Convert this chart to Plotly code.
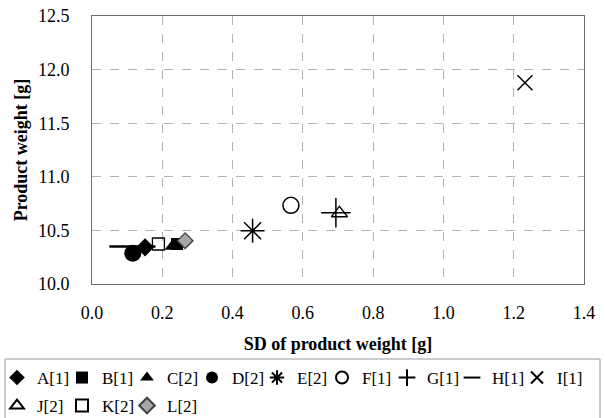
import plotly.graph_objects as go

names = ["A[1]", "B[1]", "C[2]", "D[2]", "E[2]", "F[1]", "G[1]", "H[1]", "I[1]", "J[2]", "K[2]", "L[2]"]
sd_values = [0.151, 0.242, 0.231, 0.116, 0.457, 0.566, 0.694, 0.115, 1.232, 0.704, 0.189, 0.265]
weight_values = [10.342, 10.373, 10.354, 10.286, 10.497, 10.734, 10.665, 10.350, 11.878, 10.660, 10.373, 10.404]

x_ticks = [0.0, 0.2, 0.4, 0.6, 0.8, 1.0, 1.2, 1.4]
y_ticks = [10.0, 10.5, 11.0, 11.5, 12.0, 12.5]

styles = {
    "A[1]": dict(symbol="diamond", size=14, color="black", line=dict(width=0)),
    "B[1]": dict(symbol="square", size=12, color="black", line=dict(width=0)),
    "C[2]": dict(symbol="triangle-up", size=15, color="black", line=dict(width=0)),
    "D[2]": dict(symbol="circle", size=17, color="black", line=dict(width=0)),
    "E[2]": dict(symbol="asterisk-open", size=20, color="black", line=dict(width=1.5, color="black")),
    "F[1]": dict(symbol="circle-open", size=16, color="black", line=dict(width=1.5, color="black")),
    "G[1]": dict(symbol="cross-thin-open", size=21, color="black", line=dict(width=1.5, color="black")),
    "H[1]": dict(symbol="line-ew-open", size=33, color="black", line=dict(width=2.5, color="black")),
    "I[1]": dict(symbol="x-thin-open", size=15, color="black", line=dict(width=1.5, color="black")),
    "J[2]": dict(symbol="triangle-up-open", size=14, color="black", line=dict(width=1.3, color="black")),
    "K[2]": dict(symbol="square-open", size=12, color="black", line=dict(width=1.3, color="black")),
    "L[2]": dict(symbol="diamond", size=12, color="#a6a6a6", line=dict(width=1.3, color="#404040")),
}

serif = "Liberation Serif"

# plot area: x 92..584 px, y 16..284 px
def px_x(p):
    return (p - 92) / 492.0

def px_y(p):
    return (284 - p) / 268.0

fig = go.Figure()
legends = {}
for i, (n, xv, yv) in enumerate(zip(names, sd_values, weight_values)):
    key = "legend" if i == 0 else f"legend{i + 1}"
    fig.add_trace(go.Scatter(x=[xv], y=[yv], mode="markers", name=n, marker=styles[n], legend=key))
    row, col = (0, i) if i < 9 else (1, i - 9)
    marker_px = 23 + 65 * col
    row_px = 378 if row == 0 else 406
    legends[key] = dict(
        x=px_x(marker_px - 26), y=px_y(row_px), xanchor="left", yanchor="middle",
        orientation="h", font=dict(family=serif, size=17, color="black"),
        bgcolor="rgba(0,0,0,0)", borderwidth=0, itemwidth=30, itemsizing="constant",
    )

axis_common = dict(
    showgrid=True, gridcolor="#b3b3b3", griddash="dash", gridwidth=1,
    showline=True, linecolor="#6e6e6e", linewidth=1, mirror=True,
    zeroline=False, ticks="", tickfont=dict(family=serif, size=18, color="black"),
)

fig.update_xaxes(range=[0, 1.4], tickvals=x_ticks, ticktext=[f"{v:.1f}" for v in x_ticks],
                 title=dict(text="<b>SD of product weight [g]</b>", font=dict(family=serif, size=18, color="black"), standoff=15),
                 ticklabelstandoff=12, **axis_common)
fig.update_yaxes(range=[10.0, 12.5], tickvals=y_ticks, ticktext=[f"{v:.1f}" for v in y_ticks],
                 title=dict(text="<b>Product weight [g]</b>", font=dict(family=serif, size=18, color="black"), standoff=5),
                 ticklabelstandoff=18, **axis_common)

fig.update_layout(
    width=605, height=418,
    margin=dict(l=92, r=21, t=16, b=134, autoexpand=False),
    plot_bgcolor="white", paper_bgcolor="white",
    font=dict(family=serif, color="black"),
    showlegend=True,
    shapes=[dict(type="rect", xref="paper", yref="paper",
                 x0=px_x(5), x1=px_x(600), y0=px_y(359), y1=px_y(425),
                 line=dict(color="#9a9a9a", width=1), fillcolor="rgba(0,0,0,0)", layer="below")],
    **legends,
)

fig.write_html(
    "out.html",
    config={"displayModeBar": False},
    post_script="document.body.style.margin='0';document.documentElement.style.overflow='hidden';",
)
